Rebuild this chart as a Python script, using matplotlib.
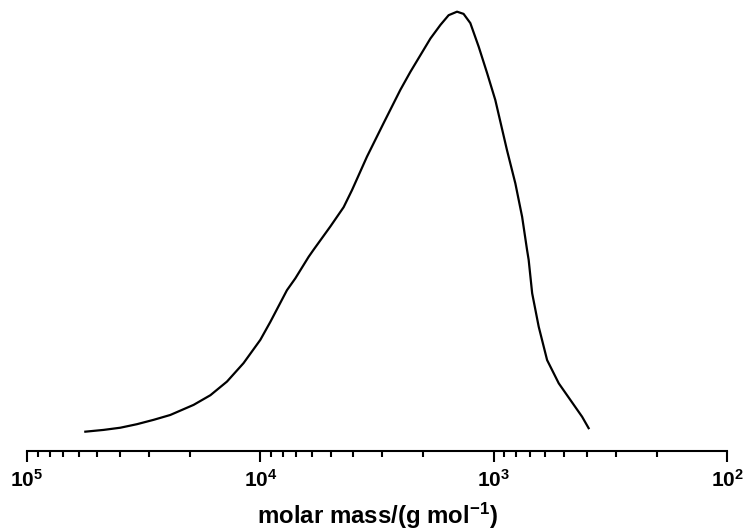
import numpy as np
import matplotlib
matplotlib.use("Agg")
import matplotlib.pyplot as plt
from matplotlib.ticker import LogLocator, FuncFormatter, NullFormatter

# molecular weight distribution, log10 of molar mass
log_mass = [4.750, 4.672, 4.600, 4.529, 4.457, 4.386, 4.286, 4.214, 4.143, 4.072,
            4.000, 3.957, 3.886, 3.850, 3.793, 3.772, 3.700, 3.643, 3.607, 3.543,
            3.472, 3.400, 3.357, 3.314, 3.271, 3.228, 3.193, 3.157, 3.129, 3.100,
            3.064, 3.028, 2.993, 2.943, 2.907, 2.878, 2.857, 2.850, 2.835, 2.807,
            2.771, 2.721, 2.671, 2.621, 2.593]
intensity = [0.044, 0.048, 0.053, 0.061, 0.071, 0.082, 0.105, 0.127, 0.158, 0.200,
             0.253, 0.294, 0.366, 0.393, 0.442, 0.458, 0.511, 0.555, 0.594, 0.670,
             0.746, 0.822, 0.863, 0.901, 0.939, 0.970, 0.992, 1.000, 0.995, 0.974,
             0.920, 0.860, 0.799, 0.685, 0.609, 0.533, 0.458, 0.435, 0.359, 0.283,
             0.207, 0.154, 0.116, 0.078, 0.052]

plt.rcParams["font.family"] = "Liberation Sans"
plt.rcParams["font.weight"] = "bold"
plt.rcParams["mathtext.fontset"] = "custom"
plt.rcParams["mathtext.rm"] = "Liberation Sans:bold"
plt.rcParams["mathtext.bf"] = "Liberation Sans:bold"
plt.rcParams["mathtext.default"] = "bf"

masa = 10 ** np.array(log_mass)

fig = plt.figure(figsize=(7.47, 5.31), dpi=100)
ax = fig.add_axes([27 / 747, 80 / 531, 700 / 747, 451 / 531])
ax.plot(masa, intensity, color="black", lw=1.6, solid_joinstyle="round")

ax.set_xscale("log")
ax.set_xlim(1e5, 1e2)
ax.set_ylim(0, 1.0266)

for lado in ["left", "top", "right"]:
    ax.spines[lado].set_visible(False)
ax.spines["bottom"].set_linewidth(1.5)
ax.set_yticks([])

ax.xaxis.set_major_locator(LogLocator(base=10, numticks=10))
ax.xaxis.set_minor_locator(LogLocator(base=10, subs=np.arange(2, 10), numticks=20))
ax.xaxis.set_major_formatter(FuncFormatter(lambda v, p: r"$10^{%d}$" % round(np.log10(v))))
ax.xaxis.set_minor_formatter(NullFormatter())
ax.tick_params(axis="x", which="major", length=8, width=1.5, pad=5, labelsize=15)
ax.tick_params(axis="x", which="minor", length=4, width=1.5)

ax.set_xlabel(r"molar mass/(g mol$^{-1}$)", fontsize=17.3, fontweight="bold", labelpad=7)

fig.savefig("out.png", dpi=100)
